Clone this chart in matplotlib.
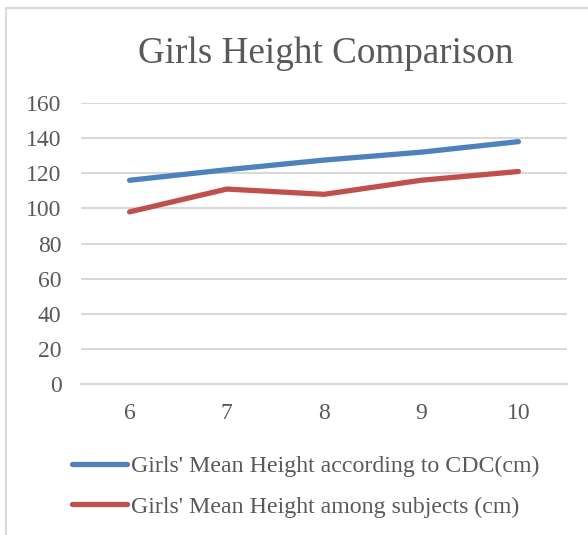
import matplotlib
matplotlib.use('Agg')
import matplotlib.pyplot as plt
from matplotlib.patches import Rectangle

# --- data ---

ages = ['6', '7', '8', '9', '10']
cdc_height = [116, 122, 127.5, 132, 138]
subject_height = [98, 111, 108, 116, 121]

cdc_label = "Girls' Mean Height according to CDC(cm)"
subject_label = "Girls' Mean Height among subjects (cm)"

# --- style ---

plt.rcParams['font.family'] = ['Liberation Serif', 'DejaVu Serif']
text_color = '#595959'
grid_color = '#D9D9D9'

fig = plt.figure(figsize=(5.88, 5.35), dpi=100)
ax = fig.add_axes([81 / 588, 1 - 384 / 535, 486 / 588, 281 / 535])

# chart area border
fig.patches.append(Rectangle((6 / 588, -0.05), 1.0, 1 - 8 / 535 + 0.05,
                             transform=fig.transFigure, fill=False,
                             edgecolor=grid_color, linewidth=1.5))

# --- plot ---

x = range(len(ages))
ax.plot(x, cdc_height, color='#4F81BD', linewidth=3.8, solid_capstyle='round',
        label=cdc_label, zorder=3)
ax.plot(x, subject_height, color='#C0504D', linewidth=3.8, solid_capstyle='round',
        label=subject_label, zorder=3)

ax.set_xlim(-0.5, len(ages) - 0.5)
ax.set_ylim(0, 160)
ax.set_yticks(range(0, 161, 20))
ax.set_xticks(list(x))
ax.set_xticklabels(ages)

ax.grid(axis='y', color=grid_color, linewidth=1.5)
ax.set_axisbelow(True)
for side in ['top', 'right', 'left']:
    ax.spines[side].set_visible(False)
ax.spines['bottom'].set_color(grid_color)
ax.spines['bottom'].set_linewidth(1.5)
ax.tick_params(length=0, labelsize=17, labelcolor=text_color)
ax.tick_params(axis='y', pad=14)
ax.tick_params(axis='x', pad=14)

fig.text(326 / 588, 1 - 63 / 535, 'Girls Height Comparison', ha='center', va='baseline',
         fontsize=26.7, color=text_color)

# --- legend ---

leg = fig.legend(loc='upper left', bbox_to_anchor=(50 / 588, 1 - 434 / 535),
                 frameon=False, fontsize=17.2, handlelength=2.33, handletextpad=0.17,
                 labelspacing=0.78)
for t in leg.get_texts():
    t.set_color(text_color)

# --- write out ---

plt.savefig('out.png', dpi=100)
plt.close()
